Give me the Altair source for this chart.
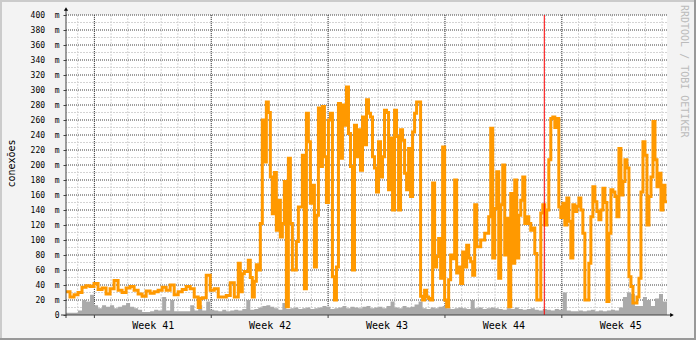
import altair as alt
import pandas as pd

# ---- data ----
TOTAL_DAYS = 36.0
STEP_LINE = 0.12          # orange series: 300 samples over 36 days
STEP_AREA = 0.24          # gray series: 150 samples over 36 days

conexoes = [31, 31, 24, 24, 27, 27, 30, 30, 37, 37, 39, 39, 38, 38, 42, 42, 34, 34, 36, 36,
            28, 28, 35, 35, 46, 46, 33, 33, 30, 30, 36, 36, 38, 38, 33, 33, 28, 28, 25, 25,
            32, 32, 29, 29, 31, 31, 33, 33, 37, 37, 33, 33, 40, 40, 27, 27, 31, 31, 34, 34,
            38, 38, 35, 35, 24, 24, 10, 22, 23, 23, 53, 53, 33, 33, 35, 35, 24, 24, 24, 24,
            26, 26, 43, 43, 24, 24,
            69, 31, 55, 58, 58, 73, 50, 24, 45, 67, 60, 122, 260, 204, 284, 270, 184, 135, 190, 113,
            153, 104, 122, 178, 11, 209, 122, 60, 60, 98, 144, 144, 213, 35, 269, 231, 149, 173, 64, 133,
            276, 198, 278, 211, 150, 260, 269, 51, 20, 64, 282, 209, 280, 253, 304, 242, 198, 60, 253, 211,
            247, 193, 264, 227, 287, 269, 264, 211, 196, 164, 231, 184, 211, 273, 270, 167, 236, 140, 273, 238,
            140, 247, 233, 189, 167, 222, 158, 244, 269, 284, 284, 25, 20, 33, 24, 22, 20, 176, 64, 78,
            102, 49, 224, 20, 11, 47, 80, 75, 180, 56, 64, 42, 84, 64, 93, 76, 71, 53, 147, 91,
            91, 100, 100, 109, 109, 131, 249, 76, 142, 191, 49, 147, 200, 80, 129, 11, 162, 69, 180, 76,
            133, 153, 184, 122, 131, 122, 113, 116, 82, 20, 20, 136, 147, 120, 140, 207, 262, 264, 250, 262,
            144, 130, 149, 120, 156, 125, 76, 147, 138, 145, 156, 140, 109, 20, 20, 69, 131, 171, 151, 138,
            127, 140, 169, 150, 18, 109, 167, 164, 158, 131, 222, 160, 178, 207, 196, 51, 38, 16, 16, 24,
            49, 164, 231, 213, 120, 158, 184, 258, 207, 171, 189, 140, 173, 151]

cinza = [3, 3, 3, 6, 20, 18, 27, 13, 9, 13, 11, 13, 9, 11, 13, 16, 11, 9, 7, 4,
         4, 5, 7, 6, 24, 6, 20, 5, 5, 5, 5, 13, 6, 13, 6, 18, 7,
         6, 5, 7, 5, 6, 7, 6, 8, 20, 7, 8, 10, 12, 13, 11, 9, 7, 16, 8, 9, 10, 8, 9, 10, 8, 9, 10, 12,
         11, 8, 9, 10, 12, 9, 11, 10, 9, 11, 12, 9, 10, 11, 9, 12, 18, 10, 9, 12, 10, 11, 14, 18, 9, 8,
         10, 9, 11, 12, 9,
         8, 9, 10, 9, 8, 20, 9, 10, 8, 9, 10, 9, 8, 7, 9, 8, 10, 8, 7, 8, 9, 7, 6, 8, 7, 6, 8, 7,
         30, 6, 5, 5, 6, 5, 6, 7, 5, 6, 5, 6, 7, 6, 10, 24, 30, 28, 12, 12, 24, 20, 12, 22, 28, 18]

week_start_days = [1.7, 8.7, 15.7, 22.7, 29.7]
week_labels = ["Week 41", "Week 42", "Week 43", "Week 44", "Week 45"]
day_lines = [0.7 + k for k in range(36)]
marker_day = [28.65]
y_major = list(range(0, 401, 20))
y_minor = list(range(10, 400, 20))
watermark = "RRDTOOL / TOBI OETIKER"
y_title = "conexões"

# ---- tables ----
n1 = len(conexoes)
line_df = pd.DataFrame({"t": [i * STEP_LINE for i in range(n1)] + [TOTAL_DAYS],
                        "v": conexoes + [conexoes[-1]]})
n2 = len(cinza)
area_df = pd.DataFrame({"t": [i * STEP_AREA for i in range(n2)] + [TOTAL_DAYS],
                        "v": cinza + [cinza[-1]]})
week_mid = [d + 3.5 for d in week_start_days]
weeks = pd.DataFrame({"t": week_start_days, "mid": week_mid, "lab": week_labels})
days = pd.DataFrame({"t": day_lines})
ymaj = pd.DataFrame({"v": y_major[1:]})
ymin = pd.DataFrame({"v": y_minor})
mark = pd.DataFrame({"t": marker_day})
one = pd.DataFrame({"k": [0]})

W, H = 601, 300
MONO = "DejaVu Sans Mono"

xs = alt.Scale(domain=[0, TOTAL_DAYS], nice=False, zero=False)
ys = alt.Scale(domain=[0, 400], nice=False, zero=False)

label_expr = "''"
for m, lab in reversed(list(zip(week_mid, week_labels))):
    label_expr = f"abs(datum.value - {m}) < 0.01 ? '{lab}' : ({label_expr})"

nb = "\u00a0"
ylab_expr = f"datum.value == 0 ? '0{nb}{nb}{nb}' : datum.value + '{nb}{nb}m'"

xaxis = alt.Axis(values=week_mid, labelExpr=label_expr, ticks=False, domain=False, grid=False,
                 labelFont=MONO, labelFontSize=10, labelColor="#000000", labelPadding=5,
                 labelFlush=False, labelOverlap=False, title=None)
yaxis = alt.Axis(values=y_major, labelExpr=ylab_expr, tickSize=3, tickColor="#404040",
                 domain=False, grid=False, labelFont=MONO, labelFontSize=8, labelColor="#000000",
                 labelPadding=4, labelFlush=False, labelOverlap=False,
                 title=y_title, titleFont=MONO, titleFontSize=10, titleFontWeight="normal",
                 titleColor="#000000", titleAngle=-90, titleX=-55, titleY=148,
                 titleAlign="center", titleBaseline="middle")

X = lambda f: alt.X(f, scale=xs, axis=xaxis, title=None)
Y = lambda f: alt.Y(f, scale=ys, axis=yaxis, title=y_title)

minor_v = alt.Chart(days).mark_rule(color="#D4D4D4", strokeDash=[2, 1], strokeWidth=1).encode(
    x=X("t:Q"))
minor_h = alt.Chart(ymin).mark_rule(color="#D4D4D4", strokeDash=[2, 1], strokeWidth=1).encode(
    y=Y("v:Q"))
major_v = alt.Chart(weeks).mark_rule(color="#404040", strokeDash=[1, 1], strokeWidth=1).encode(
    x=X("t:Q"))
major_h = alt.Chart(ymaj).mark_rule(color="#404040", strokeDash=[1, 1], strokeWidth=1).encode(
    y=Y("v:Q"))

area = alt.Chart(area_df).mark_area(color="#AAAAAA", interpolate="step-after", opacity=1).encode(
    x=X("t:Q"), y=Y("v:Q"))

line = alt.Chart(line_df).mark_line(color="#FF9900", strokeWidth=3, interpolate="step-after",
                                    strokeJoin="miter", strokeCap="butt").encode(
    x=X("t:Q"), y=Y("v:Q"))

red = alt.Chart(mark).mark_rule(color="#FF0000", strokeWidth=1).encode(x=X("t:Q"))

week_ticks = alt.Chart(weeks).mark_rule(color="#404040").encode(
    x=X("t:Q"), y=alt.value(H), y2=alt.value(H + 3))

x_axis_line = alt.Chart(one).mark_rule(color="#404040", strokeWidth=1).encode(
    x=alt.value(-5), x2=alt.value(W + 5), y=alt.value(H))
y_axis_line = alt.Chart(one).mark_rule(color="#404040", strokeWidth=1).encode(
    y=alt.value(-6), y2=alt.value(H + 3), x=alt.value(0))
x_arrow = alt.Chart(one).mark_point(shape="triangle-right", filled=True, color="#000000", size=18, opacity=1).encode(
    x=alt.value(W + 5), y=alt.value(H))
y_arrow = alt.Chart(one).mark_point(shape="triangle-up", filled=True, color="#000000", size=18, opacity=1).encode(
    x=alt.value(0), y=alt.value(-6))

frame_top = alt.Chart(one).mark_rule(color="#CBCBCB", strokeWidth=2).encode(
    x=alt.value(-66), x2=alt.value(630), y=alt.value(-14))
frame_left = alt.Chart(one).mark_rule(color="#CBCBCB", strokeWidth=2).encode(
    y=alt.value(-15), y2=alt.value(325), x=alt.value(-65))
frame_right = alt.Chart(one).mark_rule(color="#999999", strokeWidth=2).encode(
    y=alt.value(-15), y2=alt.value(325), x=alt.value(629))
frame_bottom = alt.Chart(one).mark_rule(color="#999999", strokeWidth=2).encode(
    x=alt.value(-66), x2=alt.value(630), y=alt.value(324))

wm = alt.Chart(one).mark_text(font=MONO, fontSize=10, color="#BBBBBB", angle=90, align="left",
                              baseline="middle").encode(
    x=alt.value(618), y=alt.value(-10), text=alt.value(watermark))

chart = alt.layer(
    minor_v, minor_h, major_v, major_h, area, line, red, week_ticks,
    x_axis_line, y_axis_line, x_arrow, y_arrow,
    frame_top, frame_left, frame_right, frame_bottom, wm
).properties(
    width=W, height=H,
    autosize=alt.AutoSizeParams(type="none"),
    padding={"left": 66, "top": 15, "right": 29, "bottom": 25},
    background="#F3F3F3",
).configure_view(stroke=None, fill="#FFFFFF")

chart.save("out.html", embed_options={"renderer": "svg", "actions": False})
